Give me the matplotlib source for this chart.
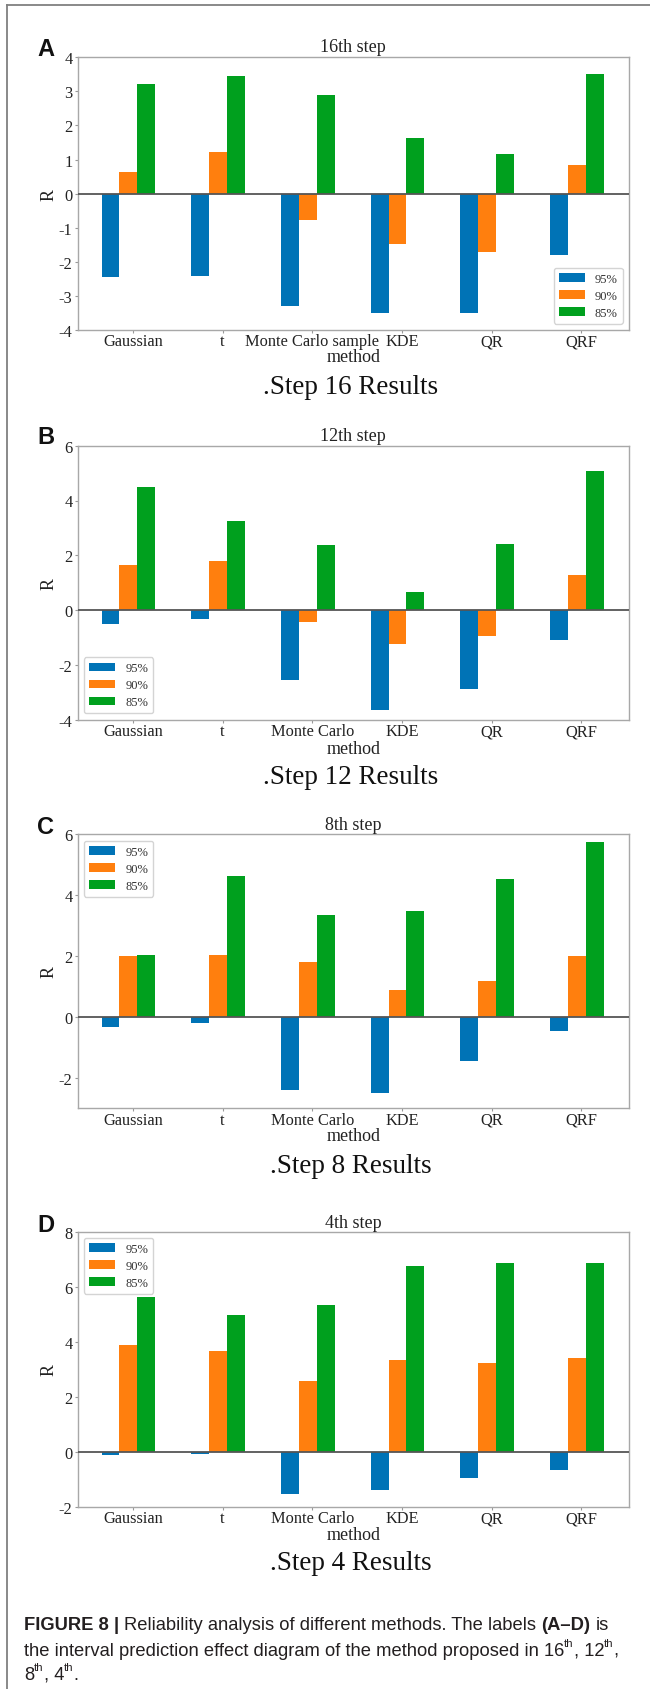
import numpy as np
import matplotlib
matplotlib.use("Agg")
import matplotlib.pyplot as plt
from matplotlib.lines import Line2D

plt.rcParams['axes.unicode_minus'] = False
plt.rcParams['font.family'] = ['Liberation Serif', 'DejaVu Serif']

# ---------------- data ----------------
methods_16 = ["Gaussian", "t", "Monte Carlo sample", "KDE", "QR", "QRF"]
methods = ["Gaussian", "t", "Monte Carlo", "KDE", "QR", "QRF"]
series_labels = ["95%", "90%", "85%"]

step16_95 = [-2.44, -2.42, -3.29, -3.49, -3.49, -1.79]
step16_90 = [0.63, 1.22, -0.76, -1.47, -1.71, 0.83]
step16_85 = [3.23, 3.44, 2.89, 1.64, 1.15, 3.51]

step12_95 = [-0.49, -0.32, -2.55, -3.63, -2.88, -1.08]
step12_90 = [1.64, 1.78, -0.43, -1.25, -0.95, 1.27]
step12_85 = [4.51, 3.24, 2.36, 0.66, 2.43, 5.07]

step8_95 = [-0.33, -0.19, -2.39, -2.51, -1.45, -0.47]
step8_90 = [1.99, 2.04, 1.81, 0.90, 1.19, 2.01]
step8_85 = [2.04, 4.62, 3.34, 3.48, 4.54, 5.74]

step4_95 = [-0.12, -0.08, -1.53, -1.38, -0.96, -0.65]
step4_90 = [3.90, 3.67, 2.57, 3.34, 3.24, 3.41]
step4_85 = [5.61, 4.96, 5.34, 6.77, 6.85, 6.85]

titles = ["16th step", "12th step", "8th step", "4th step"]
results = [".Step 16 Results", ".Step 12 Results", ".Step 8 Results", ".Step 4 Results"]
letters = ["A", "B", "C", "D"]

# ---------------- layout ----------------
W, H = 650, 1690
fig = plt.figure(figsize=(W / 100, H / 100), dpi=100)


def fx(x):
    return x / W


def fy(y):
    return 1 - y / H


colors = ["#0073b6", "#ff7f0e", "#00a01e"]
AX_L, AX_R = 77.7, 629.0
panels = [
    dict(top=58.3, bot=331.0, ylim=(-4, 4), yticks=np.arange(-4, 5, 1), loc="lower right",
         data=(step16_95, step16_90, step16_85), names=methods_16,
         title_y=48, letter_y=50, method_y=357, res_y=387),
    dict(top=446.7, bot=720.7, ylim=(-4, 6), yticks=np.arange(-4, 7, 2), loc="lower left",
         data=(step12_95, step12_90, step12_85), names=methods,
         title_y=436.5, letter_y=438, method_y=749, res_y=777.5),
    dict(top=835.3, bot=1109.3, ylim=(-3, 6), yticks=np.arange(-2, 7, 2), loc="upper left",
         data=(step8_95, step8_90, step8_85), names=methods,
         title_y=826, letter_y=828, method_y=1136.5, res_y=1166.5),
    dict(top=1232.7, bot=1508.0, ylim=(-2, 8), yticks=np.arange(-2, 9, 2), loc="upper left",
         data=(step4_95, step4_90, step4_85), names=methods,
         title_y=1224, letter_y=1225, method_y=1535.5, res_y=1564),
]

offsets = [-0.25, -0.05, 0.15]
bar_w = 0.2

for i, p in enumerate(panels):
    ax = fig.add_axes([fx(AX_L), fy(p["bot"]), (AX_R - AX_L) / W, (p["bot"] - p["top"]) / H])
    x = np.arange(len(p["names"]))
    for k in range(3):
        ax.bar(x + offsets[k], p["data"][k], width=bar_w, color=colors[k],
               label=series_labels[k], zorder=2)
    ax.axhline(0, color="#555555", lw=1.3, zorder=3)
    ax.set_xlim(-0.616, 5.532)
    ax.set_ylim(*p["ylim"])
    ax.set_yticks(p["yticks"])
    ax.set_yticklabels([str(int(v)) for v in p["yticks"]])
    ax.set_xticks(x)
    ax.set_xticklabels(p["names"])
    ax.tick_params(axis="both", labelsize=11.8, length=2.2, width=0.8, color="#999999",
                   labelcolor="#222222")
    ax.tick_params(axis="x", pad=0.3)
    ax.tick_params(axis="y", pad=1.5)
    for s in ax.spines.values():
        s.set_color("#a8a8a8")
        s.set_linewidth(1.0)
    leg = ax.legend(loc=p["loc"], fontsize=9, handlelength=2.1, handleheight=0.7,
                    labelspacing=0.4, borderpad=0.4, handletextpad=0.8, framealpha=0.9)
    leg.get_frame().set_edgecolor("#d0d0d0")
    for t in leg.get_texts():
        t.set_color("#333333")

    cx = (AX_L + AX_R) / 2
    fig.text(fx(cx), fy(p["title_y"]), titles[i], ha="center", va="center",
             fontsize=13, color="#222222")
    fig.text(fx(46), fy(p["letter_y"]), letters[i], ha="center", va="center",
             fontsize=17, fontweight="bold", family=["Liberation Sans"], color="#111111")
    fig.text(fx(cx), fy(p["method_y"]), "method", ha="center", va="center",
             fontsize=13, color="#222222")
    fig.text(fx(49), fy((p["top"] + p["bot"]) / 2), "R", ha="center", va="center",
             rotation=90, fontsize=13, color="#222222")
    fig.text(fx(351), fy(p["res_y"]), results[i], ha="center", va="center",
             fontsize=19.5, color="#111111")

# frame lines
fig.add_artist(Line2D([fx(7.3), 1.0], [fy(6), fy(6)], color="#808080", lw=1.3))
fig.add_artist(Line2D([fx(7.3), fx(7.3)], [fy(6), 0.0], color="#808080", lw=1.3))

# ---------------- caption ----------------
renderer = fig.canvas.get_renderer()
CAP_FAM = ["Liberation Sans", "DejaVu Sans"]
CAP_COL = "#231f20"

cap_lines = [
    [("FIGURE 8 |", "bold", False), (" Reliability analysis of different methods. The labels ", "normal", False),
     ("(A\u2013D)", "bold", False), (" is", "normal", False)],
    [("the interval prediction effect diagram of the method proposed in 16", "normal", False),
     ("th", "normal", True), (", 12", "normal", False), ("th", "normal", True), (",", "normal", False)],
    [("8", "normal", False), ("th", "normal", True), (", 4", "normal", False), ("th", "normal", True),
     (".", "normal", False)],
]


def text_w(s, size, weight):
    if not s:
        return 0.0
    t = fig.text(0, 0, s, fontsize=size, fontweight=weight, family=CAP_FAM)
    w = t.get_window_extent(renderer).width
    t.remove()
    return w


def run_widths(s, size, weight):
    lead = len(s) - len(s.lstrip(" "))
    trail = len(s) - len(s.rstrip(" "))
    core = s.strip(" ")
    sp = text_w("a a", size, weight) - text_w("aa", size, weight)
    return lead * sp, text_w(core, size, weight), trail * sp, core


def line_width(runs, size):
    tot = 0
    for s, wt, sup in runs:
        sz = size * 0.62 if sup else size
        a, b, c, _ = run_widths(s, sz, wt)
        tot += a + b + c
    return tot


base = 12.0
target = 598.0
size = base * target / line_width(cap_lines[1], base)

line_y = [1623.3, 1649.3, 1673.3]
for runs, yy in zip(cap_lines, line_y):
    xx = 24.0
    for s, wt, sup in runs:
        sz = size * 0.62 if sup else size
        a, b, c, core = run_widths(s, sz, wt)
        xx += a
        dy = -6.0 if sup else 0.0
        fig.text(fx(xx), fy(yy + dy), core, fontsize=sz, fontweight=wt, family=CAP_FAM,
                 color=CAP_COL, ha="left", va="center_baseline")
        xx += b + c

fig.savefig("out.png", dpi=100)
